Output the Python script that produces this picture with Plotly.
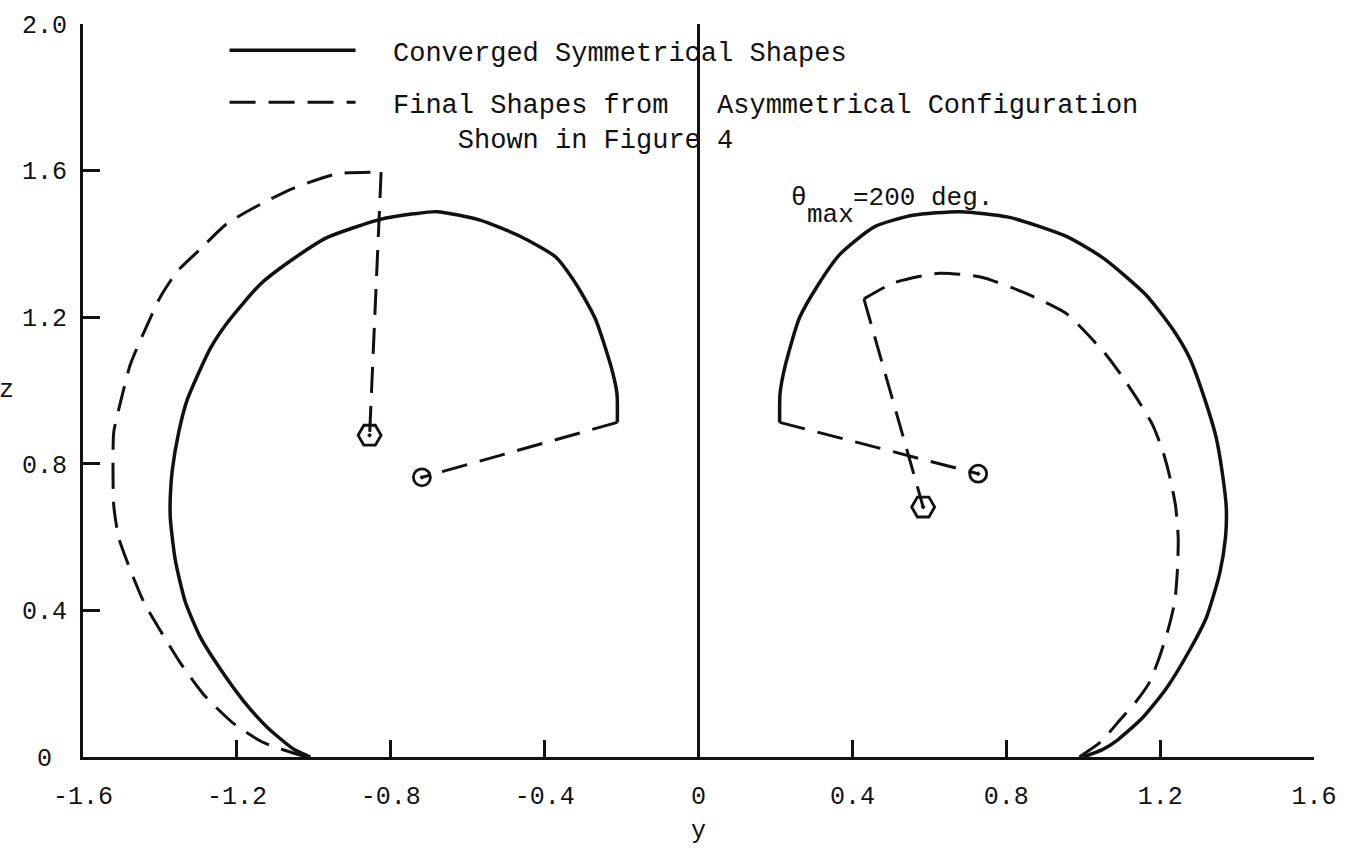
import plotly.graph_objects as go

# ---- Converged symmetrical shapes (y, z) ----
sym_left_y = [-1.009, -1.052, -1.122, -1.182, -1.243, -1.295, -1.334, -1.360, -1.373, -1.373,
              -1.368, -1.351, -1.329, -1.269, -1.225, -1.139, -1.052, -0.966, -0.827, -0.741,
              -0.680, -0.568, -0.464, -0.372, -0.318, -0.268, -0.228, -0.212, -0.211]
sym_left_z = [0.000, 0.021, 0.082, 0.152, 0.240, 0.327, 0.423, 0.537, 0.651, 0.712,
              0.782, 0.887, 0.975, 1.115, 1.185, 1.290, 1.360, 1.417, 1.467, 1.482,
              1.488, 1.465, 1.421, 1.365, 1.290, 1.195, 1.068, 0.992, 0.913]

sym_right_y = [1.000, 1.050, 1.090, 1.155, 1.216, 1.277, 1.320, 1.355, 1.370, 1.372,
               1.363, 1.346, 1.311, 1.277, 1.233, 1.164, 1.054, 0.955, 0.806, 0.680,
               0.557, 0.458, 0.368, 0.312, 0.262, 0.225, 0.212, 0.211]
sym_right_z = [0.000, 0.020, 0.047, 0.108, 0.187, 0.292, 0.380, 0.502, 0.600, 0.680,
               0.765, 0.870, 0.992, 1.088, 1.167, 1.260, 1.360, 1.421, 1.473, 1.488,
               1.478, 1.447, 1.372, 1.290, 1.197, 1.066, 0.992, 0.913]

# contact (circle) points joined to the open ends of the converged shapes
sym_contact_y = [-0.719, 0.727]
sym_contact_z = [0.763, 0.773]

# ---- Final shapes from the asymmetrical configuration (y, z) ----
asym_left_y = [-1.020, -1.130, -1.208, -1.286, -1.347, -1.399, -1.442, -1.477, -1.507, -1.520,
               -1.522, -1.520, -1.503, -1.477, -1.442, -1.399, -1.355, -1.295, -1.225, -1.139,
               -1.052, -0.940, -0.825]
asym_left_z = [0.000, 0.039, 0.091, 0.170, 0.257, 0.345, 0.423, 0.511, 0.598, 0.686,
               0.800, 0.887, 0.966, 1.071, 1.158, 1.255, 1.325, 1.386, 1.456, 1.508,
               1.552, 1.591, 1.596]

asym_right_y = [0.990, 1.043, 1.095, 1.138, 1.173, 1.199, 1.220, 1.238, 1.245, 1.247,
                1.240, 1.225, 1.207, 1.181, 1.147, 1.103, 1.060, 0.999, 0.955, 0.856,
                0.736, 0.627, 0.508, 0.430]
asym_right_z = [0.000, 0.039, 0.100, 0.152, 0.205, 0.275, 0.345, 0.423, 0.511, 0.598,
                0.686, 0.765, 0.835, 0.905, 0.966, 1.036, 1.097, 1.167, 1.211, 1.263,
                1.309, 1.320, 1.294, 1.250]

# hexagon contact points joined to the corners of the asymmetrical shapes
asym_contact_y = [-0.855, 0.584]
asym_contact_z = [0.878, 0.682]

# axis ticks
y_ticks = [-1.6, -1.2, -0.8, -0.4, 0.0, 0.4, 0.8, 1.2, 1.6]
y_tick_text = ["-1.6", "-1.2", "-0.8", "-0.4", "0", "0.4", "0.8", "1.2", "1.6"]
z_ticks = [0.0, 0.4, 0.8, 1.2, 1.6, 2.0]
z_tick_text = ["0\u00a0", "0.4", "0.8", "1.2", "1.6", "2.0"]

FONT = "Liberation Mono"
INK = "#111111"
DASH = "26px,13px"
NB = "\u00a0"
CHAR_W = 15.6  # advance of one monospace character at 26px

fig = go.Figure()

# converged symmetrical shapes (solid) with dashed radius to the contact point
fig.add_trace(go.Scatter(
    x=sym_left_y, y=sym_left_z, mode="lines",
    line=dict(color=INK, width=3.5, shape="spline", smoothing=0.6),
    name=NB * 2 + "Converged Symmetrical Shapes", legendgroup="a", showlegend=True))
fig.add_trace(go.Scatter(
    x=sym_right_y, y=sym_right_z, mode="lines",
    line=dict(color=INK, width=3.5, shape="spline", smoothing=0.6),
    legendgroup="a", showlegend=False))
for end_y, end_z, cy, cz in [(sym_left_y[-1], sym_left_z[-1], sym_contact_y[0], sym_contact_z[0]),
                             (sym_right_y[-1], sym_right_z[-1], sym_contact_y[1], sym_contact_z[1])]:
    fig.add_trace(go.Scatter(x=[end_y, cy], y=[end_z, cz], mode="lines",
                             line=dict(color=INK, width=3, dash=DASH), showlegend=False))

# final asymmetrical shapes (dashed) with dashed radius to the hexagon point
legend_text_2 = (NB * 2 + "Final Shapes from" + NB * 3 + "Asymmetrical Configuration<br>"
                 + NB * 6 + "Shown in Figure 4")
fig.add_trace(go.Scatter(
    x=asym_left_y, y=asym_left_z, mode="lines",
    line=dict(color=INK, width=3, dash=DASH, shape="spline", smoothing=0.6),
    name=legend_text_2, legendgroup="b", showlegend=True))
fig.add_trace(go.Scatter(
    x=asym_right_y, y=asym_right_z, mode="lines",
    line=dict(color=INK, width=3, dash=DASH, shape="spline", smoothing=0.6),
    legendgroup="b", showlegend=False))
for end_y, end_z, hy, hz in [(asym_left_y[-1], asym_left_z[-1], asym_contact_y[0], asym_contact_z[0]),
                             (asym_right_y[-1], asym_right_z[-1], asym_contact_y[1], asym_contact_z[1])]:
    fig.add_trace(go.Scatter(x=[end_y, hy], y=[end_z, hz], mode="lines",
                             line=dict(color=INK, width=3, dash=DASH), showlegend=False))

# contact point symbols
fig.add_trace(go.Scatter(
    x=sym_contact_y, y=sym_contact_z, mode="markers",
    marker=dict(symbol="circle-open-dot", size=17, color=INK, line=dict(width=2.8, color=INK)),
    showlegend=False))
fig.add_trace(go.Scatter(
    x=asym_contact_y, y=asym_contact_z, mode="markers",
    marker=dict(symbol="hexagon2-open-dot", size=23, color=INK, line=dict(width=2.8, color=INK)),
    showlegend=False))

# theta_max label, typed in three pieces with a lowered "max"
label_y, label_z = 0.235, 1.525
for piece, dx, dy in [("θ", 0, 0), ("max", CHAR_W, -17), ("=200 deg.", 4 * CHAR_W, 0)]:
    fig.add_annotation(x=label_y, y=label_z, xref="x", yref="y", xanchor="left", yanchor="middle",
                       text=piece, xshift=dx, yshift=dy, showarrow=False,
                       font=dict(family=FONT, size=26, color=INK))
fig.add_annotation(x=-0.062, y=1.0, xref="paper", yref="y", xanchor="center", yanchor="middle",
                   text="z", showarrow=False, font=dict(family=FONT, size=25, color=INK))

axis_common = dict(showgrid=False, showline=True, linecolor=INK, linewidth=3,
                   ticks="inside", ticklen=17, tickwidth=2.6, tickcolor=INK,
                   tickfont=dict(family=FONT, size=25, color=INK))

fig.update_layout(
    width=1366, height=852,
    margin=dict(l=83, r=52, t=16, b=74),
    paper_bgcolor="white", plot_bgcolor="white",
    font=dict(family=FONT, color=INK),
    xaxis=dict(range=[-1.6, 1.6], tickvals=y_ticks, ticktext=y_tick_text,
               zeroline=True, zerolinecolor=INK, zerolinewidth=3,
               ticklabelstandoff=14,
               title=dict(text="y", font=dict(family=FONT, size=25, color=INK), standoff=10),
               **axis_common),
    yaxis=dict(range=[0, 2.0], tickvals=z_ticks, ticktext=z_tick_text,
               zeroline=False, ticklabelstandoff=8, **axis_common),
    legend=dict(x=0.115, y=0.997, xanchor="left", yanchor="top",
                bgcolor="rgba(0,0,0,0)", borderwidth=0,
                font=dict(family=FONT, size=27, color=INK),
                itemwidth=126, valign="top", tracegroupgap=14,
                traceorder="grouped"),
    showlegend=True,
)

fig.write_html("out.html")
